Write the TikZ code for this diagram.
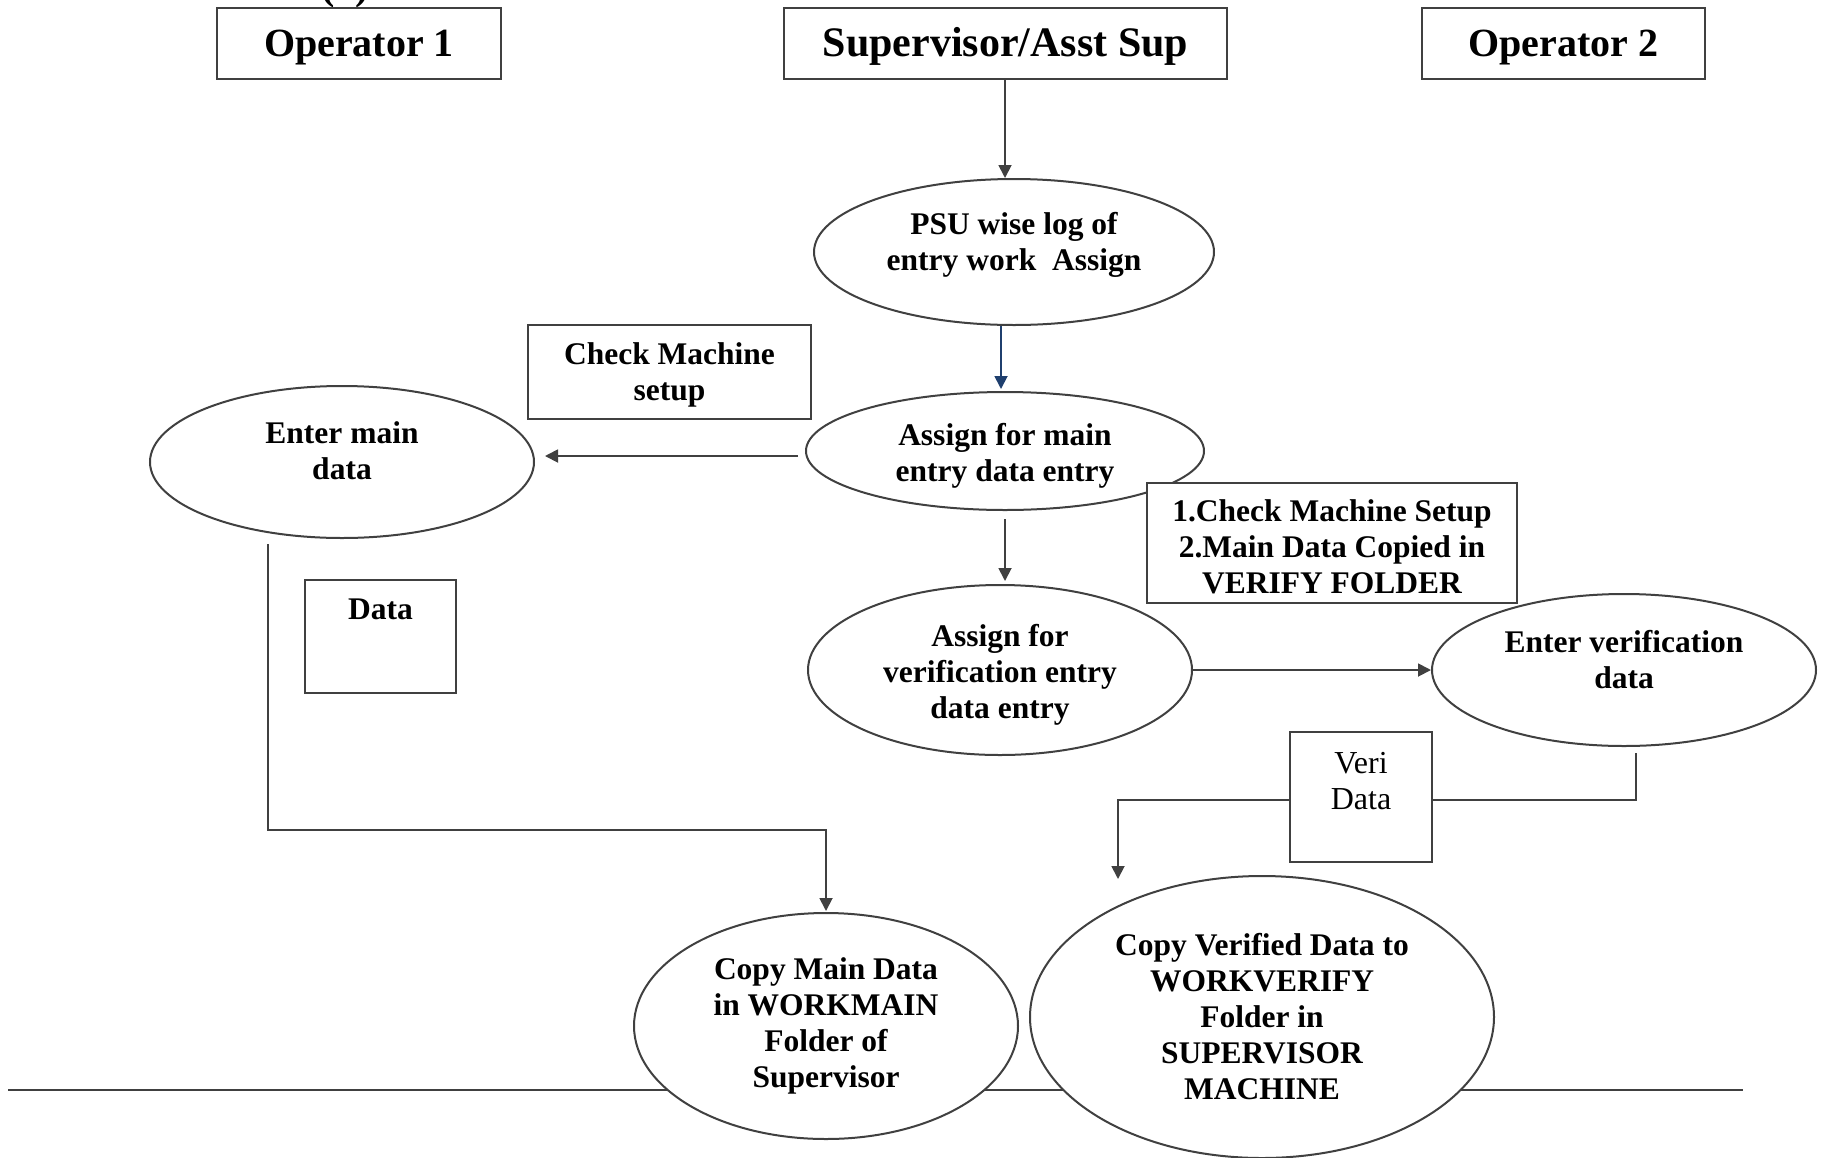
\documentclass[tikz,border=0pt]{standalone}
\usepackage{fontspec}
\setmainfont{Liberation Serif}
\usetikzlibrary{shapes.geometric,arrows.meta,calc}
\pgfdeclarelayer{bg}
\pgfsetlayers{bg,main}
\definecolor{lc}{HTML}{404040}
\definecolor{navy}{HTML}{1F3F6E}
\tikzset{
  base/.style={draw=lc, line width=2pt, fill=white, inner sep=0pt, align=center, text=black,
    font=\fontsize{31.5}{36}\selectfont\bfseries},
  box/.style={base, rectangle},
  ell/.style={base, ellipse},
  head/.style={box, font=\fontsize{40}{46}\selectfont\bfseries, text height=34pt, text depth=9pt},
  conn/.style={draw=lc, line width=1.8pt, -{Triangle[length=13pt,width=13pt]}},
  bconn/.style={draw=navy, line width=1.8pt, -{Triangle[length=13pt,width=13pt]}},
  plain/.style={draw=lc, line width=1.8pt}
}
\begin{document}
\begin{tikzpicture}[x=1pt,y=-1pt]
\useasboundingbox (0,0) rectangle (1826,1157);
\begin{scope}
\clip (0,0) rectangle (1826,1157);
\node[anchor=base, font=\fontsize{40}{46}\selectfont\bfseries] (cut) at (345,-1) {(a)};

% header boxes
\node[head, minimum width=284pt, minimum height=71pt] (op1) at (359,43.5) {Operator 1};
\node[head, font=\fontsize{42}{46}\selectfont\bfseries, minimum width=443pt, minimum height=71pt] (sup) at (1005.5,43.5) {Supervisor/Asst Sup};
\node[head, minimum width=283pt, minimum height=71pt] (op2) at (1563.5,43.5) {Operator 2};

% ellipses and boxes
\node[ell, minimum width=400pt, minimum height=146pt] (psu) at (1014,252) {PSU wise log of\\entry work\ \ Assign\\[-14pt]\mbox{}};
\node[ell, minimum width=398pt, minimum height=118pt] (am) at (1005,451) {\mbox{}\\[-4pt]Assign for main\\entry data entry};
\node[box, minimum width=283pt, minimum height=94pt] (chk) at (669.5,372) {\mbox{}\\[-9pt]Check Machine\\setup};
\node[ell, minimum width=384pt, minimum height=152pt] (main) at (342,462) {Enter main\\data\\[-14pt]\mbox{}};
\node[box, minimum width=370pt, minimum height=120pt] (vbox) at (1332,543) {\mbox{}\\[-7pt]1.Check Machine Setup\\2.Main Data Copied in\\VERIFY FOLDER};
\node[ell, minimum width=384pt, minimum height=170pt] (ver) at (1000,670) {\mbox{}\\[-4pt]Assign for\\verification entry\\data entry};
\node[ell, minimum width=384pt, minimum height=152pt] (ev) at (1624,670) {Enter verification\\data\\[-14pt]\mbox{}};
\node[box, minimum width=151pt, minimum height=113pt,
  label={[anchor=north, yshift=-16pt, font=\fontsize{31.5}{36}\selectfont\bfseries]north:Data}] (data) at (380.5,636.5) {};
\node[box, minimum width=142pt, minimum height=130pt,
  label={[anchor=north, yshift=-18pt, align=center, font=\fontsize{32}{36}\selectfont]north:Veri\\Data}] (vd) at (1361,797) {};
\node[ell, minimum width=384pt, minimum height=226pt] (cmd) at (826,1026) {Copy Main Data\\in WORKMAIN\\Folder of\\Supervisor};
\node[ell, minimum width=464pt, minimum height=282pt] (cvd) at (1262,1017) {Copy Verified Data to\\WORKVERIFY\\Folder in\\SUPERVISOR\\MACHINE};

\coordinate (vtip) at (1118,879);

\begin{pgfonlayer}{bg}
  \draw[plain] (8,1090) coordinate (hl) -- (1743,1090) coordinate (hr);
  \draw[conn] ([xshift=-0.5pt]sup.south) -- ([xshift=-0.5pt]sup.south |- psu.north);
  \draw[bconn] ([xshift=-13pt]psu.south) -- ([xshift=-4pt,yshift=2pt]am.north);
  \draw[conn, shorten >=10pt] ([xshift=-7pt,yshift=-5pt]am.west) -- ($(am.west -| main.east)+(0,5)$);
  \draw[conn, shorten >=3pt] ([yshift=-8pt]am.south) -- (ver.north -| am.south);
  \draw[conn] (ver.east) -- (ev.west);
  \draw[conn, shorten >=1pt] ([xshift=-74pt,yshift=-5pt]main.south) -- ++(0,286) -| (cmd.north);
  \draw[conn] ([xshift=12pt,yshift=-6pt]ev.south) -- ++(0,47) -| (vtip);
\end{pgfonlayer}
\end{scope}
\end{tikzpicture}
\end{document}
